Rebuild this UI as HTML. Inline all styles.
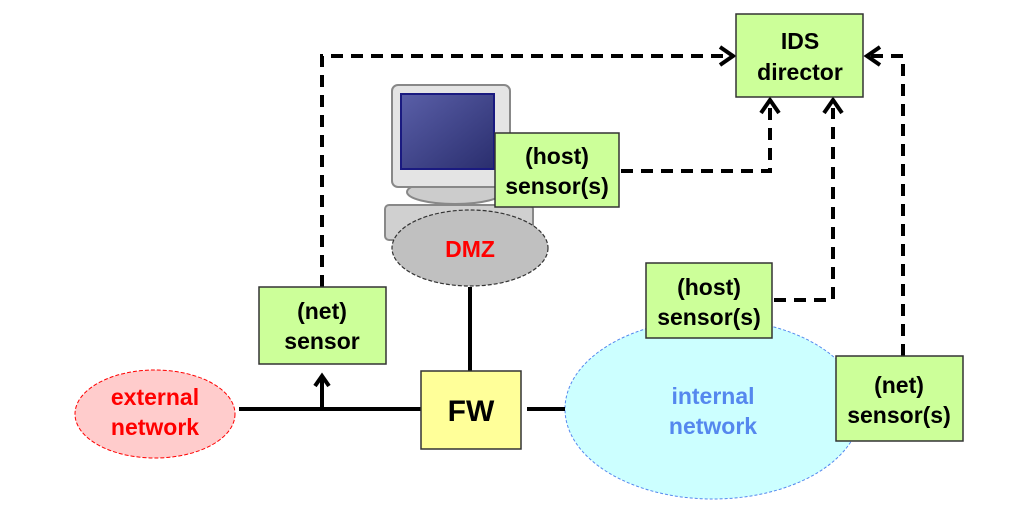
<!DOCTYPE html>
<html><head><style>html,body{margin:0;padding:0;background:#fff;}svg{display:block}</style></head>
<body>
<svg width="1019" height="508" viewBox="0 0 1019 508" xmlns="http://www.w3.org/2000/svg" font-family="Liberation Sans, sans-serif" font-weight="bold" text-anchor="middle">
<defs>
<linearGradient id="scr" x1="0" y1="0" x2="1" y2="1"><stop offset="0" stop-color="#5a5fa8"/><stop offset="1" stop-color="#2a2e6e"/></linearGradient>
</defs>
<rect x="385" y="205" width="148" height="35" rx="4" fill="#d0d0d0" stroke="#888" stroke-width="2"/>
<ellipse cx="455" cy="192" rx="48" ry="12" fill="#ccc" stroke="#888" stroke-width="2"/>
<rect x="392" y="85" width="118" height="102" rx="6" fill="#e4e4e4" stroke="#888" stroke-width="2"/>
<rect x="401" y="94" width="93" height="75" fill="url(#scr)" stroke="#1a1a80" stroke-width="2"/>
<ellipse cx="713" cy="409" rx="148" ry="90" fill="#ccffff" stroke="#5588ee" stroke-width="1" stroke-dasharray="3,2"/>
<text x="713" y="404" font-size="23" fill="#5588ee">internal</text>
<text x="713" y="434" font-size="23" fill="#5588ee">network</text>
<ellipse cx="470" cy="248" rx="78" ry="38" fill="#c0c0c0" stroke="#333" stroke-width="1.2" stroke-dasharray="4,2"/>
<text x="470" y="257" font-size="23" fill="#ff0000">DMZ</text>
<ellipse cx="155" cy="414" rx="80" ry="44" fill="#ffcccc" stroke="#ff0000" stroke-width="1" stroke-dasharray="4,2"/>
<text x="155" y="405" font-size="23" fill="#ff0000">external</text>
<text x="155" y="435" font-size="23" fill="#ff0000">network</text>
<g stroke="#000" stroke-width="4" fill="none">
<line x1="239" y1="409" x2="421" y2="409"/>
<line x1="527" y1="409" x2="565" y2="409"/>
<line x1="470" y1="287" x2="470" y2="371"/>
<line x1="322" y1="409" x2="322" y2="378"/>
<polyline points="315,386 322,376 329,386"/>
</g>
<g stroke="#000" stroke-width="4" fill="none" stroke-dasharray="12,8">
<polyline points="322,287 322,56 730,56"/>
<polyline points="621,171 770,171 770,108"/>
<polyline points="774,300 833,300 833,108"/>
<polyline points="903,356 903,56 870,56"/>
</g>
<g stroke="#000" stroke-width="4" fill="none">
<polyline points="720,47 733,56 720,65"/>
<polyline points="761,113 770,100 779,113"/>
<polyline points="824,113 833,100 842,113"/>
<polyline points="880,47 867,56 880,65"/>
</g>
<g stroke="#333" stroke-width="1.5">
<rect x="736" y="14" width="127" height="83" fill="#ccff99"/>
<rect x="495" y="133" width="124" height="74" fill="#ccff99"/>
<rect x="259" y="287" width="127" height="77" fill="#ccff99"/>
<rect x="646" y="263" width="126" height="75" fill="#ccff99"/>
<rect x="836" y="356" width="127" height="85" fill="#ccff99"/>
<rect x="421" y="371" width="100" height="78" fill="#ffff99"/>
</g>
<g font-size="23" fill="#000">
<text x="800" y="49">IDS</text><text x="800" y="80">director</text>
<text x="557" y="164">(host)</text><text x="557" y="194">sensor(s)</text>
<text x="322" y="319">(net)</text><text x="322" y="349">sensor</text>
<text x="709" y="295">(host)</text><text x="709" y="325">sensor(s)</text>
<text x="899" y="393">(net)</text><text x="899" y="423">sensor(s)</text>
<text x="471" y="421" font-size="30">FW</text>
</g>
</svg>
</body></html>
